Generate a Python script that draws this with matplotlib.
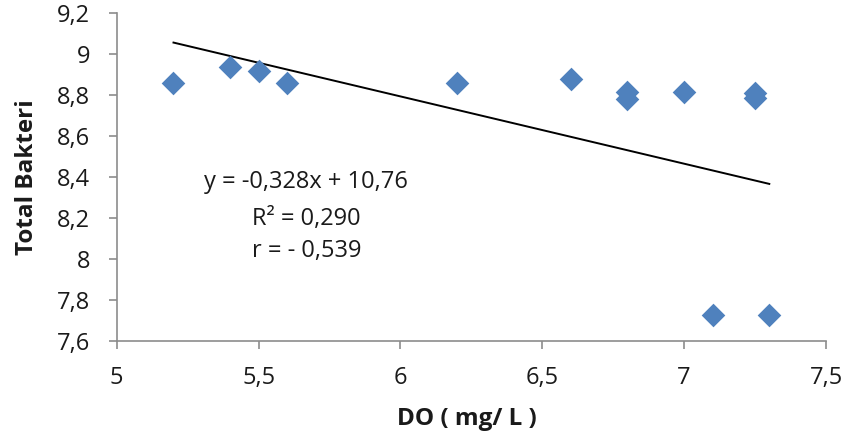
import matplotlib
matplotlib.use("Agg")
import matplotlib.pyplot as plt
from matplotlib.ticker import FuncFormatter
import numpy as np

# data
do_values = [5.2, 5.4, 5.5, 5.6, 6.2, 6.6, 6.8, 6.8, 7.0, 7.25, 7.25, 7.1, 7.3]
bakteri = [8.856, 8.934, 8.916, 8.856, 8.856, 8.875, 8.815, 8.778, 8.815, 8.81, 8.782, 7.725, 7.725]
slope = -0.328
intercept = 10.76
x_ticks = [5, 5.5, 6, 6.5, 7, 7.5]
y_ticks = [7.6, 7.8, 8.0, 8.2, 8.4, 8.6, 8.8, 9.0, 9.2]
eq_lines = ['y = -0,328x + 10,76', 'R² = 0,290', 'r = - 0,539']

plt.rcParams['font.family'] = ['Open Sans', 'DejaVu Sans']

fig = plt.figure(figsize=(8.46, 4.44), dpi=100)
ax = fig.add_axes([0.138, 0.232, 0.9764 - 0.138, 0.9714 - 0.232])

ax.scatter(do_values, bakteri, marker='D', s=145, color='#4F81BD', zorder=3, linewidths=0)

# linear trend line over the data range
xl = np.array([min(do_values), max(do_values)])
ax.plot(xl, slope * xl + intercept, color='black', linewidth=1.4, zorder=2)

ax.set_xlim(5, 7.5)
ax.set_ylim(7.6, 9.2)
ax.set_xticks(x_ticks)
ax.set_yticks(y_ticks)

def comma_fmt(v, pos):
    s = ('%.1f' % v).rstrip('0').rstrip('.')
    return s.replace('.', ',')

ax.xaxis.set_major_formatter(FuncFormatter(comma_fmt))
ax.yaxis.set_major_formatter(FuncFormatter(comma_fmt))

for side in ['top', 'right']:
    ax.spines[side].set_visible(False)
for side in ['left', 'bottom']:
    ax.spines[side].set_color('#8c8c8c')
    ax.spines[side].set_linewidth(1.2)
ax.tick_params(axis='both', colors='#8c8c8c', labelcolor='#1a1a1a', labelsize=17, length=6, width=1.2)
ax.tick_params(axis='x', pad=12)
ax.tick_params(axis='y', pad=13)

ax.set_xlabel('DO ( mg/ L )', fontsize=17.5, fontweight='bold', color='#1a1a1a')
ax.set_ylabel('Total Bakteri', fontsize=17.5, fontweight='bold', color='#1a1a1a')
ax.xaxis.set_label_coords(0.493, -0.2)
ax.yaxis.set_label_coords(-0.11, 0.5)

for txt, yy in zip(eq_lines, [8.345, 8.164, 8.008]):
    ax.text(5.668, yy, txt, fontsize=17, ha='center', va='baseline', color='#1a1a1a')

fig.savefig('out.png', dpi=100)
